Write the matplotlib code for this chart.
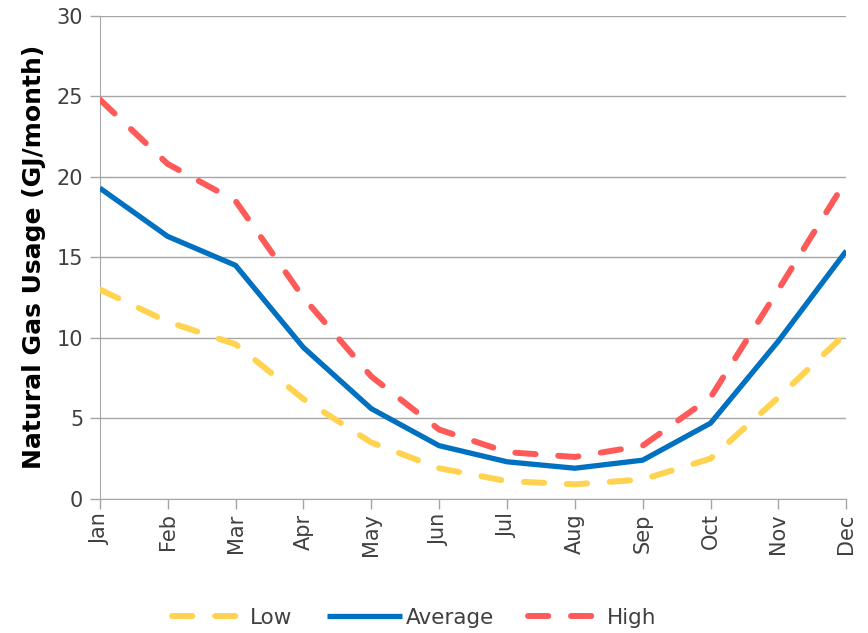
import matplotlib
matplotlib.use("Agg")
import matplotlib.pyplot as plt

months = ["Jan", "Feb", "Mar", "Apr", "May", "Jun", "Jul", "Aug", "Sep", "Oct", "Nov", "Dec"]
low = [13.0, 11.0, 9.6, 6.2, 3.5, 1.9, 1.1, 0.9, 1.2, 2.5, 6.3, 10.3]
average = [19.3, 16.3, 14.5, 9.4, 5.6, 3.3, 2.3, 1.9, 2.4, 4.7, 9.8, 15.4]
high = [24.8, 20.8, 18.5, 12.5, 7.6, 4.3, 2.9, 2.6, 3.3, 6.3, 13.0, 19.8]
yticks = [0, 5, 10, 15, 20, 25, 30]

plt.rcParams['font.family'] = ['DejaVu Sans']

fig = plt.figure(figsize=(8.68, 6.33), dpi=100)
ax = fig.add_axes([0.115, 0.212, 0.86, 0.763])

x = list(range(len(months)))
lw_d = 4.3
ax.plot(x, low, color="#FFD34F", lw=lw_d, dashes=(3.4, 3.8), dash_capstyle="round", label="Low", zorder=3)
ax.plot(x, average, color="#0070C0", lw=3.8, solid_capstyle="butt", label="Average", zorder=4)
ax.plot(x, high, color="#FF5A5A", lw=lw_d, dashes=(3.4, 3.8), dash_capstyle="round", label="High", zorder=3)

ax.set_xlim(0, 11)
ax.set_ylim(0, 30)
ax.set_yticks(yticks)
ax.set_xticks(x)
ax.set_xticklabels(months, rotation=90)
ax.grid(axis="y", color="#A6A6A6", lw=1.0)
ax.set_axisbelow(True)
for s in ["top", "right"]:
    ax.spines[s].set_visible(False)
ax.spines["left"].set_color("#A6A6A6")
ax.spines["bottom"].set_color("#A6A6A6")
ax.tick_params(axis="both", colors="#A6A6A6", labelcolor="#404040", labelsize=15, length=7, width=1.0)
ax.tick_params(axis="y", pad=5)
ax.set_ylabel("Natural Gas Usage (GJ/month)", fontsize=18, fontweight="bold", color="#000000", labelpad=8)

leg = fig.legend(loc="center", bbox_to_anchor=(0.477, 0.024), ncol=3, frameon=False,
                 fontsize=15.5, handlelength=3.5, handletextpad=0.15, columnspacing=1.6)
for t in leg.get_texts():
    t.set_color("#404040")

fig.savefig("out.png", dpi=100)
